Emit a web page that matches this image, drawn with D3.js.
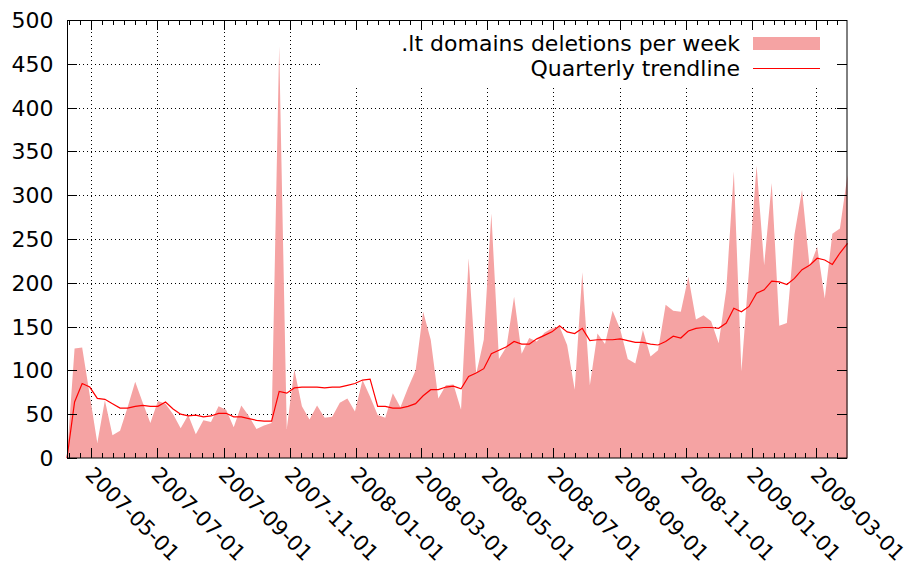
<!DOCTYPE html>
<html>
<head>
<meta charset="utf-8">
<script src="https://cdnjs.cloudflare.com/ajax/libs/d3/7.8.5/d3.min.js"></script>
<style>
body { margin: 0; background: #fff; }
text { font-family: "DejaVu Sans", sans-serif; font-size: 22px; fill: #000; }
</style>
</head>
<body>
<script>
// .lt domain deletions, one value per week
var firstWeek = "2007-04-09";
var deletions = [
    2, 125, 126, 72, 17, 66, 26, 31, 58, 87,
    63, 40, 65, 62, 50, 34, 49, 27, 43, 41,
    59, 55, 35, 60, 48, 33, 37, 40, 470, 33,
    101, 59, 44, 60, 46, 47, 63, 68, 53, 89,
    70, 49, 46, 74, 58, 80, 100, 167, 135, 68,
    83, 84, 55, 228, 96, 135, 279, 113, 127, 184,
    119, 137, 133, 143, 148, 150, 129, 78, 212, 83,
    142, 130, 168, 147, 113, 108, 146, 116, 123, 175,
    168, 167, 207, 158, 163, 156, 131, 192, 327, 99,
    215, 334, 220, 314, 151, 154, 255, 306, 218, 241,
    182, 256, 262, 323
];
var trend = [
    0, 64, 85, 81, 68, 67, 62, 57, 57, 59,
    60, 59, 59, 64, 56, 50, 48, 49, 47, 48,
    51, 51, 47, 47, 45, 43, 42, 42, 76, 74,
    80, 81, 81, 81, 80, 81, 81, 83, 85, 89,
    90, 59, 59, 57, 57, 59, 62, 71, 78, 78,
    81, 82, 79, 93, 97, 102, 119, 123, 127, 133,
    130, 130, 136, 140, 144, 151, 144, 142, 148, 134,
    135, 135, 135, 136, 134, 132, 132, 130, 129, 133,
    139, 137, 145, 148, 149, 149, 148, 154, 171, 167,
    173, 188, 192, 202, 201, 198, 205, 215, 220, 228,
    226, 221, 234, 245
];
var yTicks = [0, 50, 100, 150, 200, 250, 300, 350, 400, 450, 500];
var xTickLabels = ["2007-05-01", "2007-07-01", "2007-09-01", "2007-11-01",
    "2008-01-01", "2008-03-01", "2008-05-01", "2008-07-01", "2008-09-01",
    "2008-11-01", "2009-01-01", "2009-03-01"];
var seriesNames = [".lt domains deletions per week", "Quarterly trendline"];

var margin = {top: 20, right: 64, bottom: 112, left: 67},
    width = 911 - margin.left - margin.right,
    height = 570 - margin.top - margin.bottom;

var parse = d3.utcParse("%Y-%m-%d");
var start = parse(firstWeek);
var weeks = deletions.map(function(d, i) { return d3.utcDay.offset(start, 7 * i); });
var xTicks = xTickLabels.map(parse);

var svg = d3.select("body").append("svg")
    .attr("width", 911)
    .attr("height", 570)
    .append("g")
    .attr("transform", "translate(" + margin.left + "," + margin.top + ")");

var x = d3.scaleUtc()
    .domain([start, weeks[weeks.length - 1]])
    .range([0, width + 0.5]);
var y = d3.scaleLinear()
    .domain([0, 500])
    .range([height, 0]);

// grid
var grid = svg.append("g")
    .attr("stroke", "#000")
    .attr("stroke-width", 1)
    .attr("stroke-dasharray", "1,3");
grid.selectAll(".gy").data(yTicks.slice(1, -1)).enter().append("line")
    .attr("x1", 0).attr("x2", width)
    .attr("y1", function(d) { return Math.round(y(d)) + 0.5; })
    .attr("y2", function(d) { return Math.round(y(d)) + 0.5; });
grid.selectAll(".gx").data(xTicks).enter().append("line")
    .attr("x1", function(d) { return Math.round(x(d)) + 0.5; })
    .attr("x2", function(d) { return Math.round(x(d)) + 0.5; })
    .attr("y1", 0).attr("y2", height);

// legend background hides the grid
svg.append("rect")
    .attr("x", 253).attr("y", 0)
    .attr("width", width - 253).attr("height", 66)
    .attr("fill", "#fff");

// weekly area
var area = d3.area()
    .x(function(d, i) { return x(weeks[i]); })
    .y0(y(0))
    .y1(function(d) { return y(d); });
svg.append("path")
    .datum(deletions)
    .attr("fill", "#f5a3a3")
    .attr("d", area);

// trendline
var line = d3.line()
    .x(function(d, i) { return x(weeks[i]); })
    .y(function(d) { return y(d); });
svg.append("path")
    .datum(trend)
    .attr("fill", "none")
    .attr("stroke", "#ff0000")
    .attr("stroke-width", 1.2)
    .attr("d", line);

// border
svg.append("rect")
    .attr("x", 0.5).attr("y", 0.5)
    .attr("width", width - 0.5).attr("height", height - 0.5)
    .attr("fill", "none")
    .attr("stroke", "#000");

// minor x ticks, 6 per two months
var minor = [];
for (var k = 0; k < xTicks.length - 1; k++) {
    var a = x(xTicks[k]), b = x(xTicks[k + 1]);
    for (var j = 1; j < 6; j++) minor.push(a + (b - a) * j / 6);
}
var step0 = (x(xTicks[1]) - x(xTicks[0])) / 6;
for (var p = x(xTicks[0]) - step0; p > 0; p -= step0) minor.push(p);
var stepN = (x(xTicks[xTicks.length - 1]) - x(xTicks[xTicks.length - 2])) / 6;
for (var q = x(xTicks[xTicks.length - 1]) + stepN; q < width; q += stepN) minor.push(q);

var ticks = svg.append("g").attr("stroke", "#000").attr("stroke-width", 1);
minor.forEach(function(px) {
    var xx = Math.round(px) + 0.5;
    ticks.append("line").attr("x1", xx).attr("x2", xx).attr("y1", height).attr("y2", height - 5);
    ticks.append("line").attr("x1", xx).attr("x2", xx).attr("y1", 0).attr("y2", 5);
});
xTicks.forEach(function(d) {
    var xx = Math.round(x(d)) + 0.5;
    ticks.append("line").attr("x1", xx).attr("x2", xx).attr("y1", height).attr("y2", height - 10);
    ticks.append("line").attr("x1", xx).attr("x2", xx).attr("y1", 0).attr("y2", 10);
});
yTicks.forEach(function(d) {
    var yy = Math.round(y(d)) + 0.5;
    ticks.append("line").attr("x1", 0).attr("x2", 10).attr("y1", yy).attr("y2", yy);
    ticks.append("line").attr("x1", width).attr("x2", width - 10).attr("y1", yy).attr("y2", yy);
});

// tick labels
svg.selectAll(".ylab").data(yTicks).enter().append("text")
    .attr("x", -13.5)
    .attr("y", function(d) { return y(d); })
    .attr("dy", "0.36em")
    .attr("text-anchor", "end")
    .text(function(d) { return d; });

svg.selectAll(".xlab").data(xTicks).enter().append("text")
    .attr("transform", function(d) { return "translate(" + (x(d) - 6.5) + "," + (height + 18) + ") rotate(45)"; })
    .attr("text-anchor", "start")
    .style("font-size", "21px")
    .text(function(d, i) { return xTickLabels[i]; });

// legend
var legend = svg.append("g");
legend.append("text").attr("x", 673).attr("y", 31).attr("text-anchor", "end").text(seriesNames[0]);
legend.append("rect").attr("x", 686).attr("y", 17).attr("width", 67).attr("height", 13).attr("fill", "#f5a3a3");
legend.append("text").attr("x", 673).attr("y", 56).attr("text-anchor", "end").text(seriesNames[1]);
legend.append("line").attr("x1", 686).attr("x2", 753).attr("y1", 48.5).attr("y2", 48.5)
    .attr("stroke", "#ff0000").attr("stroke-width", 1.2);
</script>
</body>
</html>
